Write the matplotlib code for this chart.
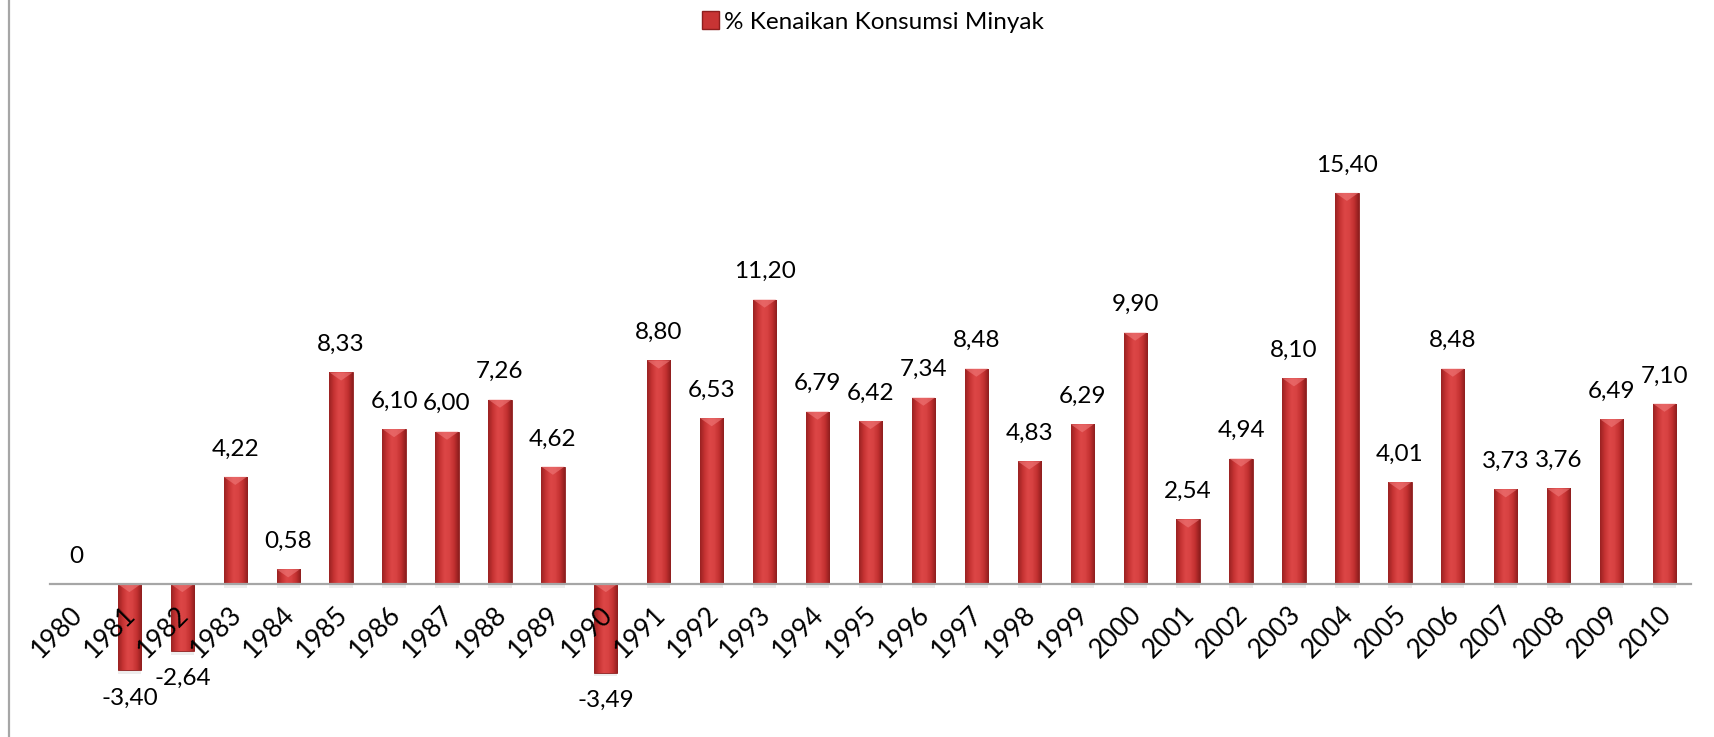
import numpy as np
import matplotlib
matplotlib.use("Agg")
import matplotlib.pyplot as plt
from matplotlib.patches import Patch, Polygon
from matplotlib.lines import Line2D
from matplotlib.colors import to_rgb

plt.rcParams['font.family'] = ['Lato', 'DejaVu Sans']

# data
years = [str(y) for y in range(1980, 2011)]
kenaikan = [0, -3.40, -2.64, 4.22, 0.58, 8.33, 6.10, 6.00, 7.26, 4.62,
            -3.49, 8.80, 6.53, 11.20, 6.79, 6.42, 7.34, 8.48, 4.83, 6.29,
            9.90, 2.54, 4.94, 8.10, 15.40, 4.01, 8.48, 3.73, 3.76, 6.49, 7.10]
series_name = '% Kenaikan Konsumsi Minyak'

W, H = 1715, 737
fig = plt.figure(figsize=(W / 100, H / 100), dpi=100)
ax = fig.add_axes([50 / W, 0, 1641 / W, 1])

x = np.arange(len(years))
bars = ax.bar(x, kenaikan, width=0.44, color='#C83434', edgecolor='#8E2020',
              linewidth=0.6, zorder=1)

# horizontal gradient for a rounded look
stops = ['#9A2222', '#C63333', '#DC4646', '#D84242', '#C23030', '#8E1E1E']
grad = np.array([to_rgb(c) for c in stops])
pos = np.linspace(0, 1, len(stops))
t = np.linspace(0, 1, 60)
img = np.stack([np.interp(t, pos, grad[:, k]) for k in range(3)], axis=-1)[None, :, :]

bevel = 0.32
for b in bars:
    x0, y0 = b.get_x(), b.get_y()
    w, h = b.get_width(), b.get_height()
    if h == 0:
        continue
    lo, hi = min(y0, y0 + h), max(y0, y0 + h)
    im = ax.imshow(img, extent=(x0, x0 + w, lo, hi), aspect='auto',
                   interpolation='bilinear', zorder=1.1)
    im.set_clip_path(b)
    d = min(bevel, (hi - lo))
    tri = Polygon([(x0, hi), (x0 + w, hi), (x0 + w * 0.5, hi - d)],
                  closed=True, facecolor='#F07A7A', edgecolor='none',
                  alpha=0.6, zorder=1.2)
    ax.add_patch(tri)
    # soft shadow under the bar
    ax.add_patch(plt.Rectangle((x0, lo - 0.15), w, 0.15, facecolor='#000000',
                               alpha=0.07, edgecolor='none', zorder=0.9))

# value labels
for xi, v in zip(x, kenaikan):
    lab = '0' if v == 0 else f'{v:.2f}'.replace('.', ',')
    off = 20 if v >= 0 else -20
    ax.annotate(lab, (xi, v), xytext=(0, off), textcoords='offset points',
                ha='center', va='center', fontsize=17.5, color='#000000')

ax.set_xlim(-0.5, len(years) - 0.5)
ax.set_ylim(-153 / 25.4, 584 / 25.4)

for s in ['top', 'right', 'left']:
    ax.spines[s].set_visible(False)
ax.spines['bottom'].set_position(('data', 0))
ax.spines['bottom'].set_color('#A6A6A6')
ax.spines['bottom'].set_linewidth(1.6)
ax.set_yticks([])
ax.set_xticks(x + 0.05, labels=years, rotation=45, ha='right', va='center',
              rotation_mode='anchor', fontsize=19)
ax.tick_params(axis='x', length=0, pad=19)

fig.add_artist(Line2D([9 / W, 9 / W], [0, 1], color='#A6A6A6', lw=1.6))

fig.legend(handles=[Patch(facecolor='#C83434', edgecolor='#8E1E1E')],
           labels=[series_name], loc='center',
           bbox_to_anchor=(873 / W, 1 - 22 / H), frameon=False,
           fontsize=17.5, handlelength=0.7, handleheight=0.7, handletextpad=0.2)

fig.savefig('out.png', dpi=100)
